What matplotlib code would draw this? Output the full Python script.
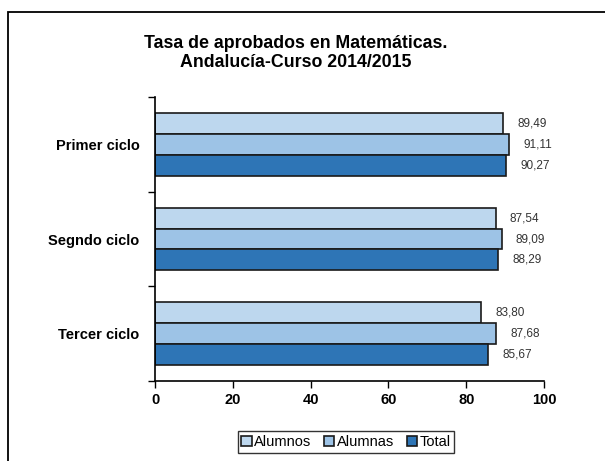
import matplotlib.pyplot as plt
from matplotlib.patches import Rectangle

plt.rcParams['font.family'] = ['Liberation Sans', 'DejaVu Sans']

categories = ['Primer ciclo', 'Segndo ciclo', 'Tercer ciclo']
alumnos = [89.49, 87.54, 83.80]
alumnas = [91.11, 89.09, 87.68]
total = [90.27, 88.29, 85.67]
series_names = ['Alumnos', 'Alumnas', 'Total']
colors = ['#bdd7ee', '#9dc3e6', '#2e75b6']

fig = plt.figure(figsize=(6.05, 4.61), dpi=100)
ax = fig.add_axes([155/605, 1 - 381/461, 389/605, 284/461])

# outer frame of the chart (cut off at right and bottom)
fig.patches.append(Rectangle((8/605, -0.1), 1.2, 1 - 12/461 + 0.1,
                             transform=fig.transFigure, fill=False,
                             edgecolor='black', linewidth=1.3))

ypos = [2, 1, 0]
h = 0.22
offsets = [h, 0, -h]
for vals, name, c, off in zip([alumnos, alumnas, total], series_names, colors, offsets):
    ys = [y + off for y in ypos]
    ax.barh(ys, vals, height=h, color=c, edgecolor='#1a1a1a', linewidth=1.2, label=name)
    for y, v in zip(ys, vals):
        ax.text(v + 3.7, y, f'{v:.2f}'.replace('.', ','), va='center', ha='left',
                fontsize=8.5, color='#333333')

ax.set_xlim(0, 100)
ax.set_ylim(-0.5, 2.5)
ax.set_xticks([0, 20, 40, 60, 80, 100])
ax.tick_params(axis='x', labelsize=10.5, length=5, width=1, direction='out', pad=4)
for t in ax.get_xticklabels():
    t.set_fontweight('bold')

ax.set_yticks([-0.5, 0.5, 1.5, 2.5])
ax.set_yticklabels([])
ax.tick_params(axis='y', length=5, width=1, direction='out')
ax.set_yticks(ypos, minor=True)
ax.set_yticklabels(categories, minor=True, fontsize=10.5, fontweight='bold')
ax.tick_params(axis='y', which='minor', length=0, pad=11)

for s in ['top', 'right']:
    ax.spines[s].set_visible(False)
for s in ['left', 'bottom']:
    ax.spines[s].set_linewidth(1.2)

fig.text(296/605, 1 - 53/461, 'Tasa de aprobados en Matemáticas.\nAndalucía-Curso 2014/2015',
         ha='center', va='center', fontsize=12.8, fontweight='bold', linespacing=1.1)

leg = fig.legend(loc='center', bbox_to_anchor=(346/605, 1 - 442/461), ncol=3,
                 fontsize=10.5, handlelength=0.7, handleheight=0.7, handletextpad=0.15,
                 columnspacing=0.9, borderpad=0.25, fancybox=False, edgecolor='black')
leg.get_frame().set_linewidth(1.0)

fig.savefig('out.png', dpi=100)
